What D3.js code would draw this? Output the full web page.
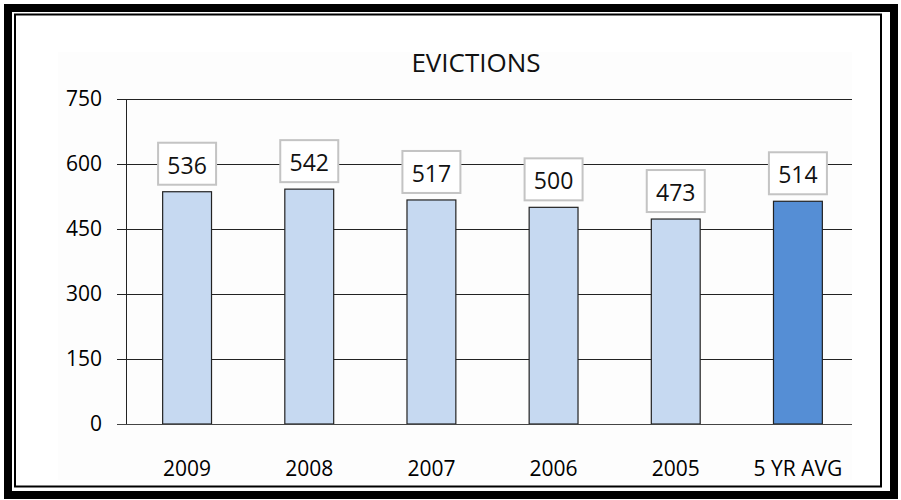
<!DOCTYPE html>
<html>
<head>
<meta charset="utf-8">
<script src="https://cdn.jsdelivr.net/npm/d3@7"></script>
<style>
    body { margin: 0; background: #fff; }
    text { font-family: "Open Sans", sans-serif; fill: #000; }
</style>
</head>
<body>
<div id="chart"></div>
<script>
// values
const categories = ["2009", "2008", "2007", "2006", "2005", "5 YR AVG"];
const evictions = [536, 542, 517, 500, 473, 514];
const yTicks = [0, 150, 300, 450, 600, 750];
const title = "EVICTIONS";

const W = 901, H = 500;

const svg = d3.select("#chart")
    .append("svg")
    .attr("width", W)
    .attr("height", H);

// double frame
svg.append("rect")
    .attr("x", 8).attr("y", 8)
    .attr("width", 886).attr("height", 487)
    .attr("fill", "none")
    .attr("stroke", "#000")
    .attr("stroke-width", 8);
svg.append("rect")
    .attr("x", 15).attr("y", 14.5)
    .attr("width", 866).attr("height", 472)
    .attr("fill", "none")
    .attr("stroke", "#000")
    .attr("stroke-width", 2);

// faint chart area
svg.append("rect")
    .attr("x", 58).attr("y", 52)
    .attr("width", 794).attr("height", 428)
    .attr("fill", "#fdfdfd");

// scales
var x = d3.scaleBand()
    .domain(categories)
    .range([126, 859]);

var y = d3.scaleLinear()
    .domain([0, 750])
    .range([424, 99]);

const gridRight = 852, gridLeft = 117;

// gridlines + y labels
const yAxis = svg.append("g")
    .attr("transform", "translate(" + gridRight + ",0)")
    .call(d3.axisLeft(y)
        .tickValues(yTicks)
        .tickSize(gridRight - gridLeft)
        .tickPadding(15));
yAxis.select(".domain").remove();
yAxis.selectAll(".tick line")
    .attr("stroke", "#222")
    .attr("stroke-width", 1);
yAxis.selectAll(".tick text")
    .style("font-size", "21px")
    .style("font-family", "'Open Sans', sans-serif")
    .attr("fill", "#111");

// vertical axis line
svg.append("line")
    .attr("x1", 126.5).attr("x2", 126.5)
    .attr("y1", y(750)).attr("y2", y(0))
    .attr("stroke", "#222");

// bars
const barW = x.bandwidth() * 0.4;
svg.append("g")
    .selectAll("rect")
    .data(evictions)
    .enter()
    .append("rect")
    .attr("x", (d, i) => x(categories[i]) + x.bandwidth() / 2 - barW / 2)
    .attr("y", d => y(d))
    .attr("width", barW)
    .attr("height", d => y(0) - y(d))
    .attr("fill", (d, i) => i === categories.length - 1 ? "#558ed5" : "#c6d9f1")
    .attr("stroke", "#222")
    .attr("stroke-width", 1.2);

// baseline on top of bars
svg.append("line")
    .attr("x1", gridLeft).attr("x2", gridRight)
    .attr("y1", y(0) + 0.5).attr("y2", y(0) + 0.5)
    .attr("stroke", "#444");

// x labels
const xAxis = svg.append("g")
    .attr("transform", "translate(0," + y(0) + ")")
    .call(d3.axisBottom(x).tickSize(0).tickPadding(37));
xAxis.select(".domain").remove();
xAxis.selectAll(".tick text")
    .style("font-size", "21px")
    .style("font-family", "'Open Sans', sans-serif")
    .attr("fill", "#111");

// data label boxes
const lbl = svg.append("g")
    .selectAll("g")
    .data(evictions)
    .enter()
    .append("g")
    .attr("transform", (d, i) =>
        "translate(" + (x(categories[i]) + x.bandwidth() / 2) + "," + (y(d) - 7) + ")");
lbl.append("rect")
    .attr("x", -29).attr("y", -42)
    .attr("width", 58).attr("height", 42)
    .attr("fill", "#fff")
    .attr("stroke", "#c4c4c4")
    .attr("stroke-width", 2);
lbl.append("text")
    .attr("text-anchor", "middle")
    .attr("y", -11)
    .style("font-size", "23px")
    .style("fill", "#111")
    .text(d => d);

// title
svg.append("text")
    .attr("x", 476)
    .attr("y", 72)
    .attr("text-anchor", "middle")
    .style("font-size", "26px")
    .style("fill", "#111")
    .text(title);
</script>
</body>
</html>
